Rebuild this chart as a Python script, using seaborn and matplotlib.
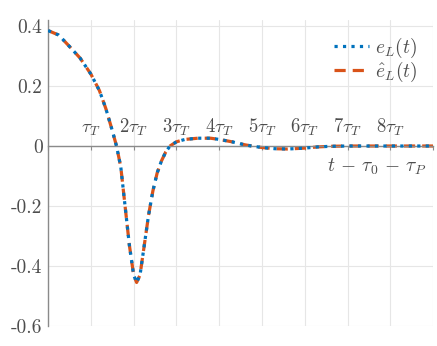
import matplotlib
matplotlib.use("Agg")
import numpy as np
import pandas as pd
import matplotlib.pyplot as plt
import seaborn as sns

# time axis in units of tau_T, error signals
t = [0.0, 0.25, 0.5, 0.75, 1.0, 1.2, 1.35, 1.5, 1.6, 1.7, 1.8, 1.9, 2.0, 2.07,
     2.15, 2.25, 2.35, 2.45, 2.55, 2.65, 2.75, 2.85, 3.0, 3.2, 3.5, 3.8, 4.0,
     4.3, 4.6, 4.8, 5.0, 5.3, 5.6, 6.0, 6.3, 6.6, 7.0, 8.0, 9.0]
e_L = [0.385, 0.37, 0.332, 0.293, 0.24, 0.185, 0.125, 0.052, 0.0, -0.07, -0.2,
       -0.33, -0.43, -0.455, -0.43, -0.33, -0.23, -0.15, -0.09, -0.05, -0.02,
       0.0, 0.014, 0.022, 0.026, 0.026, 0.022, 0.014, 0.004, -0.001, -0.005,
       -0.009, -0.01, -0.007, -0.003, -0.001, 0.0, 0.0, 0.0]
e_L_hat = [0.385, 0.37, 0.332, 0.293, 0.24, 0.185, 0.125, 0.052, 0.0, -0.07, -0.2,
           -0.33, -0.43, -0.455, -0.43, -0.33, -0.23, -0.15, -0.09, -0.05, -0.02,
           0.0, 0.014, 0.022, 0.026, 0.026, 0.022, 0.014, 0.004, -0.001, -0.005,
           -0.009, -0.01, -0.007, -0.003, -0.001, 0.0, 0.0, 0.0]

xticks = [0, 1, 2, 3, 4, 5, 6, 7, 8, 9]
xtick_labels = ["", r"$\tau_T$", r"$2\tau_T$", r"$3\tau_T$", r"$4\tau_T$",
                r"$5\tau_T$", r"$6\tau_T$", r"$7\tau_T$", r"$8\tau_T$", ""]
yticks = [-0.6, -0.4, -0.2, 0, 0.2, 0.4]
ytick_labels = ["-0.6", "-0.4", "-0.2", "0", "0.2", "0.4"]

sns.set_theme(style="whitegrid")
plt.rcParams["mathtext.fontset"] = "cm"
plt.rcParams["font.family"] = ["cmr10", "DejaVu Serif"]
plt.rcParams["axes.formatter.use_mathtext"] = True

fig = plt.figure(figsize=(4.37, 3.46), dpi=100)
ax = fig.add_axes([0.110, 0.058, 0.881, 0.884])

blue = "#0072BD"
orange = "#D95319"
gray_txt = "#4d4d4d"

sns.lineplot(x=t, y=e_L_hat, ax=ax, color=orange, lw=2.3, dashes=False,
             label=r"$\hat{e}_L(t)$", zorder=2)
ax.lines[-1].set_dashes((3.5, 2.2))
sns.lineplot(x=t, y=e_L, ax=ax, color=blue, lw=2.3, linestyle=":",
             label=r"$e_L(t)$", zorder=3)

ax.set_xlim(0, 9)
ax.set_ylim(-0.6, 0.42)

ax.set_xticks(xticks)
ax.set_xticklabels(xtick_labels)
ax.set_yticks(yticks)
ax.set_yticklabels(ytick_labels)

# x axis runs through the origin, labels above it
ax.xaxis.tick_top()
ax.spines["top"].set_position(("data", 0))
ax.spines["top"].set_color("#8a8a8a")
ax.spines["top"].set_linewidth(1.0)
ax.spines["bottom"].set_visible(False)
ax.spines["right"].set_visible(False)
ax.spines["left"].set_color("#8a8a8a")
ax.spines["left"].set_linewidth(1.0)

ax.tick_params(axis="x", direction="in", length=3, width=0.8, color="#8a8a8a",
               pad=6, labelsize=13.5, labelcolor=gray_txt)
ax.tick_params(axis="y", direction="in", length=3, width=0.8, color="#8a8a8a",
               pad=4, labelsize=14, labelcolor=gray_txt)
ax.grid(True, color="#e6e6e6", lw=0.8)

ax.text(8.85, -0.035, r"$t\,-\,\tau_0\,-\,\tau_P$", ha="right", va="top",
        fontsize=14, color=gray_txt)

handles, labels = ax.get_legend_handles_labels()
ax.legend(handles[::-1], labels[::-1], loc="upper right", frameon=False,
          fontsize=14, handlelength=1.8, borderaxespad=0.4, labelspacing=0.0,
          handletextpad=0.3)
for txt in ax.get_legend().get_texts():
    txt.set_color(gray_txt)

fig.savefig("out.png", dpi=100)
